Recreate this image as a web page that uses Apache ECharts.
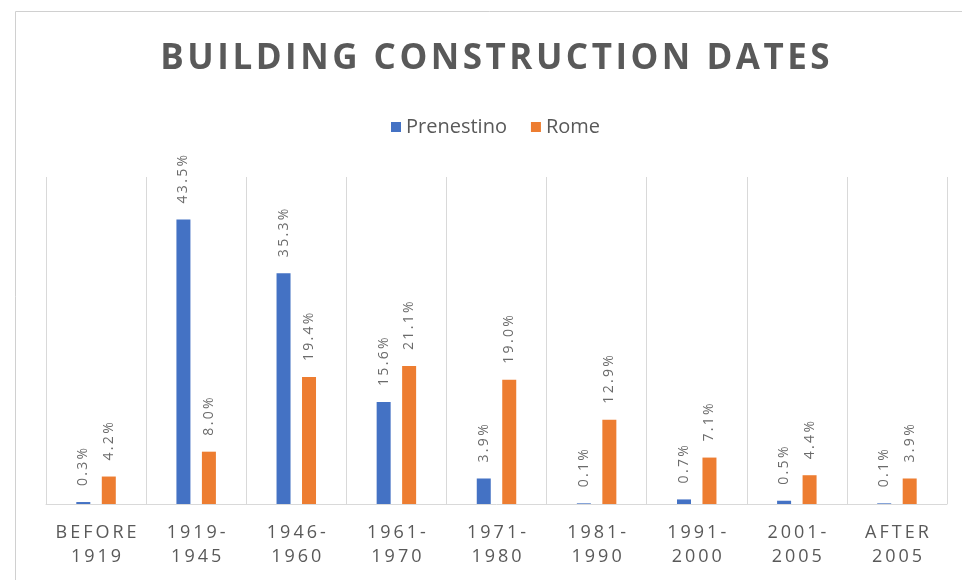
<!DOCTYPE html>
<html>
<head>
<meta charset="utf-8">
<script src="https://cdn.jsdelivr.net/npm/echarts@6/dist/echarts.min.js"></script>
<style>
  html, body { margin: 0; padding: 0; background: #fff; }
  #chart { width: 962px; height: 580px; }
</style>
</head>
<body>
<div id="chart"></div>
<script>
// values (percent of buildings)
const categories = ['BEFORE 1919', '1919-1945', '1946-1960', '1961-1970', '1971-1980', '1981-1990', '1991-2000', '2001-2005', 'AFTER 2005']
const prenestino = [0.3, 43.5, 35.3, 15.6, 3.9, 0.1, 0.7, 0.5, 0.1]
const rome = [4.2, 8.0, 19.4, 21.1, 19.0, 12.9, 7.1, 4.4, 3.9]

const textGray = '#595959'

// the original uses wide letter spacing, fake it with narrow spaces
function spaced(s, sp) {
  return s.split('').join(sp || '\u2009')
}

function catLabel(name) {
  // "1919-1945" -> "1919-\n1945", "BEFORE 1919" -> "BEFORE\n1919"
  let parts
  if (name.indexOf(' ') > 0) parts = name.split(' ')
  else {
    const i = name.indexOf('-')
    parts = [name.slice(0, i + 1), name.slice(i + 1)]
  }
  return parts.map(p => spaced(p)).join('\n')
}

const chart = echarts.init(document.getElementById('chart'))

const barLabel = {
  show: true,
  position: 'top',
  rotate: 90,
  align: 'left',
  verticalAlign: 'middle',
  distance: 16,
  color: '#6b6b6b',
  fontFamily: 'Open Sans',
  fontSize: 14,
  formatter: p => spaced(p.value.toFixed(1) + '%')
}

const option = {
  backgroundColor: '#fff',
  animation: false,
  title: {
    text: spaced('BUILDING CONSTRUCTION DATES', '\u200A'),
    left: 490,
    textAlign: 'center',
    top: 37,
    textStyle: {
      color: textGray,
      fontFamily: 'Open Sans',
      fontWeight: 'bold',
      fontSize: 35
    }
  },
  legend: {
    data: ['Prenestino', 'Rome'],
    top: 112,
    left: 386,
    icon: 'rect',
    itemWidth: 10,
    itemHeight: 10,
    itemGap: 24,
    textStyle: {
      color: textGray,
      fontFamily: 'Open Sans',
      fontSize: 20
    }
  },
  grid: {
    left: 46,
    right: 15,
    top: 177,
    bottom: 76
  },
  xAxis: {
    type: 'category',
    data: categories,
    axisLine: { lineStyle: { color: '#d9d9d9', width: 1 } },
    axisTick: { show: false },
    splitLine: { show: true, lineStyle: { color: '#d9d9d9', width: 1 } },
    axisLabel: {
      interval: 0,
      margin: 17,
      color: textGray,
      fontFamily: 'Open Sans',
      fontSize: 18,
      lineHeight: 24,
      formatter: catLabel
    }
  },
  yAxis: {
    type: 'value',
    min: 0,
    max: 50,
    show: false,
    splitLine: { show: false }
  },
  series: [
    {
      name: 'Prenestino',
      type: 'bar',
      data: prenestino,
      barWidth: 14,
      barGap: '82%',
      itemStyle: { color: '#4472C4' },
      label: barLabel
    },
    {
      name: 'Rome',
      type: 'bar',
      data: rome,
      barWidth: 14,
      itemStyle: { color: '#ED7D31' },
      label: barLabel
    }
  ],
  graphic: [
    {
      type: 'rect',
      shape: { x: 15.5, y: 11.5, width: 960, height: 600 },
      style: { fill: 'none', stroke: '#d0d0d0', lineWidth: 1 },
      silent: true
    }
  ]
}

chart.setOption(option)
window.addEventListener('resize', chart.resize)
</script>
</body>
</html>
